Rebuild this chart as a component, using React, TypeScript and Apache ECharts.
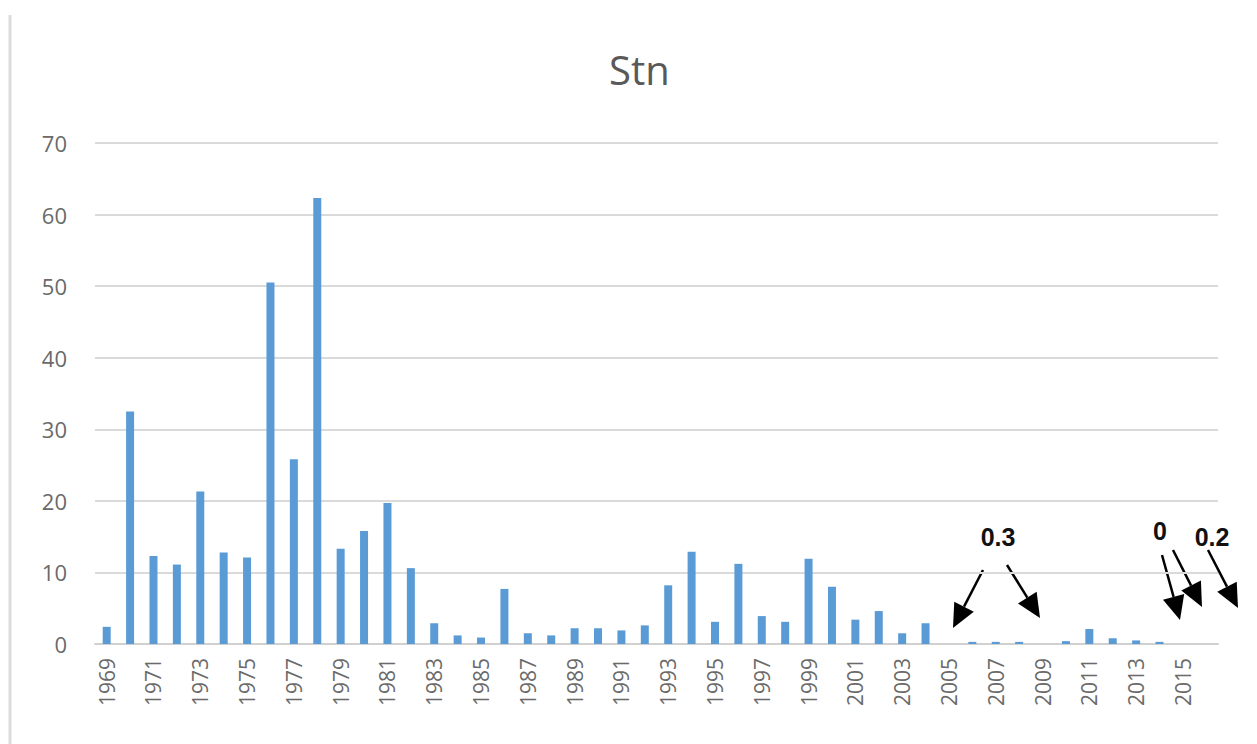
import React, { useEffect, useRef } from "react";
import * as echarts from "echarts";

const years: string[] = [
  "1969","1970","1971","1972","1973","1974","1975","1976","1977","1978",
  "1979","1980","1981","1982","1983","1984","1985","1986","1987","1988",
  "1989","1990","1991","1992","1993","1994","1995","1996","1997","1998",
  "1999","2000","2001","2002","2003","2004","2005","2006","2007","2008",
  "2009","2010","2011","2012","2013","2014","2015","2016",
];

const stnValues: (number | null)[] = [
  2.4, 32.5, 12.3, 11.1, 21.3, 12.8, 12.1, 50.5, 25.8, 62.3,
  13.3, 15.8, 19.7, 10.6, 2.9, 1.2, 0.9, 7.7, 1.5, 1.2,
  2.2, 2.2, 1.9, 2.6, 8.2, 12.9, 3.1, 11.2, 3.9, 3.1,
  11.9, 8.0, 3.4, 4.6, 1.5, 2.9, null, 0.3, 0.3, 0.3,
  null, 0.4, 2.1, 0.8, 0.5, 0.3, null, null,
];

const annotationTexts = [
  { text: "0.3", x: 998, y: 537 },
  { text: "0", x: 1160, y: 531 },
  { text: "0.2", x: 1212, y: 537 },
];

const arrows: [number, number, number, number][] = [
  [983, 570, 953, 628],
  [1007, 565, 1040, 618],
  [1162, 555, 1180, 620],
  [1173, 550, 1202, 607],
  [1208, 550, 1238, 608],
];

function arrowGraphics() {
  const out: any[] = [];
  arrows.forEach(([x1, y1, x2, y2]) => {
    const dx = x2 - x1;
    const dy = y2 - y1;
    const len = Math.sqrt(dx * dx + dy * dy);
    const ux = dx / len;
    const uy = dy / len;
    const headLen = 24;
    const headHalf = 11;
    const bx = x2 - ux * headLen;
    const by = y2 - uy * headLen;
    out.push({
      type: "line",
      shape: { x1, y1, x2: bx, y2: by },
      style: { stroke: "#000", lineWidth: 2.5 },
      silent: true,
    });
    out.push({
      type: "polygon",
      shape: {
        points: [
          [x2, y2],
          [bx - uy * headHalf, by + ux * headHalf],
          [bx + uy * headHalf, by - ux * headHalf],
        ],
      },
      style: { fill: "#000" },
      silent: true,
    });
  });
  return out;
}

export default function App() {
  const ref = useRef<HTMLDivElement>(null);
  useEffect(() => {
    if (!ref.current) return;
    const chart = echarts.init(ref.current, null, { renderer: "svg" });
    const textGraphics = annotationTexts.map((a) => ({
      type: "text",
      x: a.x,
      y: a.y,
      style: {
        text: a.text,
        fill: "#111",
        font: "bold 25px 'Liberation Sans', Arial, sans-serif",
        align: "center",
        verticalAlign: "middle",
      },
      silent: true,
    }));
    chart.setOption({
      animation: false,
      backgroundColor: "#ffffff",
      title: {
        text: "Stn",
        left: 604,
        top: 44,
        textStyle: {
          fontFamily: "'Open Sans', 'Noto Sans', sans-serif",
          fontWeight: "normal",
          fontSize: 40,
          color: "#595959",
        },
      },
      grid: { left: 95, right: 39, top: 143, bottom: 100, containLabel: false },
      xAxis: {
        type: "category",
        data: years,
        axisLine: { show: true, lineStyle: { color: "#d0d0d0", width: 2 } },
        axisTick: { show: false },
        axisLabel: {
          interval: 1,
          rotate: 90,
          margin: 14,
          fontSize: 21,
          fontFamily: "'Open Sans', 'Noto Sans', sans-serif",
          color: "#6a6a6a",
        },
      },
      yAxis: {
        type: "value",
        min: 0,
        max: 70,
        interval: 10,
        axisLine: { show: false },
        axisTick: { show: false },
        splitLine: { lineStyle: { color: "#dadada", width: 2 } },
        axisLabel: {
          margin: 28,
          fontSize: 22,
          fontFamily: "'Open Sans', 'Noto Sans', sans-serif",
          color: "#6a6a6a",
        },
      },
      series: [
        {
          type: "bar",
          name: "Stn",
          data: stnValues,
          barWidth: 8,
          itemStyle: { color: "#5b9bd5" },
        },
      ],
      graphic: [
        {
          type: "line",
          shape: { x1: 10, y1: 15, x2: 10, y2: 744 },
          style: { stroke: "#dcdcdc", lineWidth: 3 },
          silent: true,
        },
        ...textGraphics,
        ...arrowGraphics(),
      ],
    });
    return () => chart.dispose();
  }, []);
  return (
    <div
      ref={ref}
      style={{ position: "fixed", left: 0, top: 0, width: 1257, height: 744 }}
    />
  );
}
